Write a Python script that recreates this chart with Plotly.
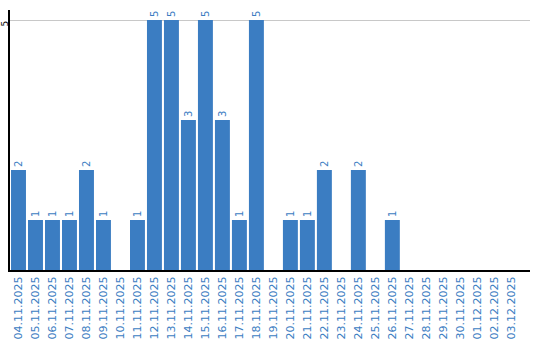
import plotly.graph_objects as go

dates = ["04.11.2025","05.11.2025","06.11.2025","07.11.2025","08.11.2025","09.11.2025",
         "10.11.2025","11.11.2025","12.11.2025","13.11.2025","14.11.2025","15.11.2025",
         "16.11.2025","17.11.2025","18.11.2025","19.11.2025","20.11.2025","21.11.2025",
         "22.11.2025","23.11.2025","24.11.2025","25.11.2025","26.11.2025","27.11.2025",
         "28.11.2025","29.11.2025","30.11.2025","01.12.2025","02.12.2025","03.12.2025"]
values = [2,1,1,1,2,1,0,1,5,5,3,5,3,1,5,0,1,1,2,0,2,0,1,0,0,0,0,0,0,0]

blue = "#3b7dc2"
fig = go.Figure(go.Bar(
    x=dates, y=values,
    marker=dict(color=blue, line=dict(width=0)),
    text=[str(v) if v else "" for v in values],
    textposition="outside", textangle=-90, cliponaxis=False,
    textfont=dict(family="DejaVu Sans", size=10, color=blue),
))
fig.update_layout(
    width=540, height=340,
    margin=dict(l=10, r=10, t=10, b=70),
    paper_bgcolor="white", plot_bgcolor="white",
    bargap=0.12, showlegend=False,
)
fig.update_xaxes(
    type="category", range=[-0.5, 30.1], tickangle=-90, automargin=False,
    tickfont=dict(family="DejaVu Sans", size=11, color=blue),
    showline=True, linecolor="black", linewidth=2, ticks="", showgrid=False,
)
fig.update_yaxes(
    range=[0, 5.2], tickvals=[5], ticktext=["5"], tickangle=-90, automargin=False,
    ticklabelstandoff=-4, ticklabelshift=5,
    tickfont=dict(family="DejaVu Sans", size=9, color="black"),
    showline=True, linecolor="black", linewidth=2, ticks="",
    showgrid=True, gridcolor="#c8c8c8", gridwidth=1, zeroline=False,
)
fig.write_html("out.html")
